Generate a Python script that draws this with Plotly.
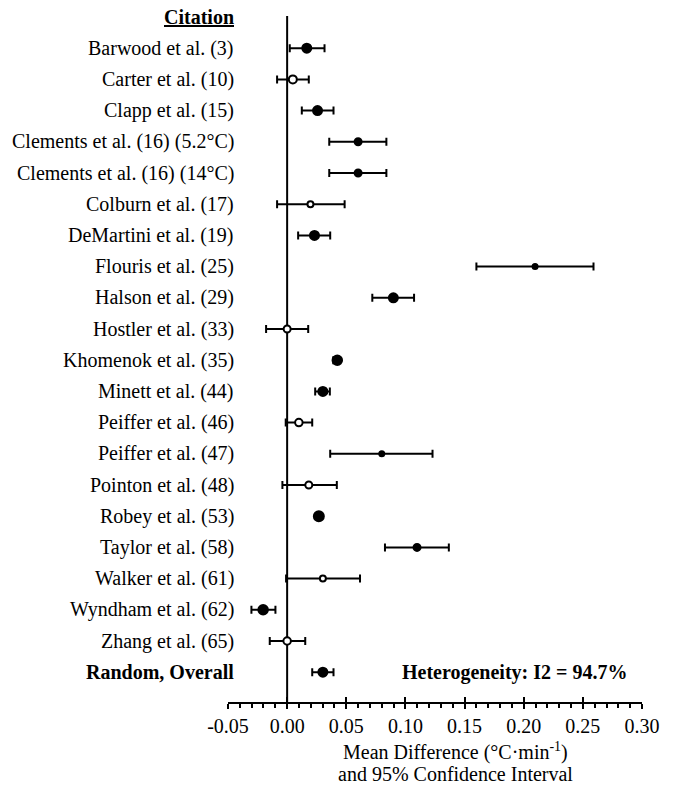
import plotly.graph_objects as go

# ---------------- data ----------------
labels = [
    "Barwood et al. (3)", "Carter et al. (10)", "Clapp et al. (15)",
    "Clements et al. (16) (5.2°C)", "Clements et al. (16) (14°C)",
    "Colburn et al. (17)", "DeMartini et al. (19)", "Flouris et al. (25)",
    "Halson et al. (29)", "Hostler et al. (33)", "Khomenok et al. (35)",
    "Minett et al. (44)", "Peiffer et al. (46)", "Peiffer et al. (47)",
    "Pointon et al. (48)", "Robey et al. (53)", "Taylor et al. (58)",
    "Walker et al. (61)", "Wyndham et al. (62)", "Zhang et al. (65)",
    "Random, Overall",
]
mean_diff = [0.0166, 0.0048, 0.0257, 0.060, 0.060, 0.0197, 0.0231, 0.2096,
             0.0898, 0.0, 0.0424, 0.0302, 0.0099, 0.080, 0.0183, 0.0268,
             0.1098, 0.0302, -0.0203, 0.0, 0.0302]
ci_low = [0.0022, -0.0085, 0.0124, 0.0356, 0.0356, -0.0085, 0.0093, 0.160,
          0.072, -0.0178, 0.0390, 0.0237, -0.0012, 0.0364, -0.0040, 0.0262,
          0.0827, -0.0009, -0.0302, -0.0147, 0.0212]
ci_high = [0.0316, 0.0183, 0.0392, 0.0839, 0.0839, 0.0486, 0.0364, 0.259,
           0.1073, 0.0178, 0.0440, 0.0361, 0.0212, 0.1229, 0.0420, 0.0274,
           0.1367, 0.0616, -0.0099, 0.0153, 0.0392]
significant = [True, False, True, True, True, False, True, True, True, False,
               True, True, False, True, False, True, True, False, True, False,
               True]
heterogeneity_text = "Heterogeneity: I2 = 94.7%"
tick_vals = [-0.05, 0.0, 0.05, 0.10, 0.15, 0.20, 0.25, 0.30]
tick_text = ["-0.05", "0.00", "0.05", "0.10", "0.15", "0.20", "0.25", "0.30"]

# ---------------- style ----------------
marker_sizes = [9, 8, 9, 7, 7, 6, 9, 5, 9, 7, 9.5, 9, 7.5, 5, 7, 10, 7,
                6, 9.5, 7.5, 9]
FONT = "Liberation Serif"
rows = list(range(1, len(labels) + 1))

err_plus = [h - m for h, m in zip(ci_high, mean_diff)]
err_minus = [m - l for m, l in zip(mean_diff, ci_low)]
fill_colors = ["black" if s else "white" for s in significant]

fig = go.Figure()
# confidence intervals (drawn first, underneath the markers)
fig.add_trace(go.Scatter(
    x=mean_diff, y=rows, mode="markers",
    marker=dict(size=1, color="rgba(0,0,0,0)"),
    error_x=dict(type="data", array=err_plus, arrayminus=err_minus,
                 color="black", thickness=2, width=4, symmetric=False),
    showlegend=False, hoverinfo="skip", xaxis="x", yaxis="y",
))
# point estimates
fig.add_trace(go.Scatter(
    x=mean_diff, y=rows, mode="markers",
    marker=dict(size=marker_sizes, color=fill_colors, symbol="circle",
                opacity=1, line=dict(color="black", width=2)),
    showlegend=False, hoverinfo="skip", xaxis="x", yaxis="y",
))
# invisible trace to activate the overlay axis (inside major ticks)
fig.add_trace(go.Scatter(x=[0], y=[1], mode="markers",
                         marker=dict(color="rgba(0,0,0,0)", size=1),
                         xaxis="x2", yaxis="y", showlegend=False,
                         hoverinfo="skip"))

# zero line
fig.add_shape(type="line", x0=0, x1=0, xref="x", y0=0, y1=1, yref="paper",
              line=dict(color="black", width=2), layer="below")

# labels
label_x = -0.0432
fig.add_annotation(x=label_x, y=0, xref="x", yref="y", xanchor="right",
                   yanchor="middle", text="<b><u>Citation</u></b>",
                   showarrow=False, font=dict(family=FONT, size=20, color="black"))
for r, lab in zip(rows, labels):
    txt = f"<b>{lab}</b>" if lab.startswith("Random") else lab
    fig.add_annotation(x=label_x, y=r, xref="x", yref="y", xanchor="right",
                       yanchor="middle", text=txt, showarrow=False,
                       font=dict(family=FONT, size=20, color="black"))
fig.add_annotation(x=0.0958, y=rows[-1], xref="x", yref="y", xanchor="left",
                   yanchor="middle", text=f"<b>{heterogeneity_text}</b>",
                   showarrow=False, font=dict(family=FONT, size=20, color="black"))

# axis title
fig.add_annotation(x=0.1426, y=-0.0715, xref="x", yref="paper", xanchor="center",
                   yanchor="middle", text="Mean Difference (°C·min<sup>-1</sup>)",
                   showarrow=False, font=dict(family=FONT, size=20, color="black"))
fig.add_annotation(x=0.1426, y=-0.1045, xref="x", yref="paper", xanchor="center",
                   yanchor="middle", text="and 95% Confidence Interval",
                   showarrow=False, font=dict(family=FONT, size=20, color="black"))

xrange = [-0.05, 0.30]
fig.update_layout(
    width=674, height=790,
    margin=dict(l=228, r=32, t=16, b=88, pad=0),
    paper_bgcolor="white", plot_bgcolor="white",
    font=dict(family=FONT, size=20, color="black"),
    xaxis=dict(range=xrange, tickvals=tick_vals, ticktext=tick_text,
               showgrid=False, zeroline=False, showline=True,
               linecolor="black", linewidth=2, ticks="outside", ticklen=5,
               tickwidth=2, tickcolor="black",
               tickfont=dict(family=FONT, size=20, color="black"),
               minor=dict(dtick=0.01, ticks="outside", ticklen=4,
                          tickwidth=1.5, tickcolor="black"),
               fixedrange=True),
    xaxis2=dict(range=xrange, overlaying="x", anchor="y", side="bottom",
                tickvals=tick_vals, showticklabels=False, showgrid=False,
                zeroline=False, showline=False, ticks="inside", ticklen=5,
                tickwidth=2, tickcolor="black", fixedrange=True),
    yaxis=dict(range=[21.955, -0.032], showgrid=False, zeroline=False,
               showline=False, showticklabels=False, ticks="",
               fixedrange=True),
)

fig.write_html("out.html")
